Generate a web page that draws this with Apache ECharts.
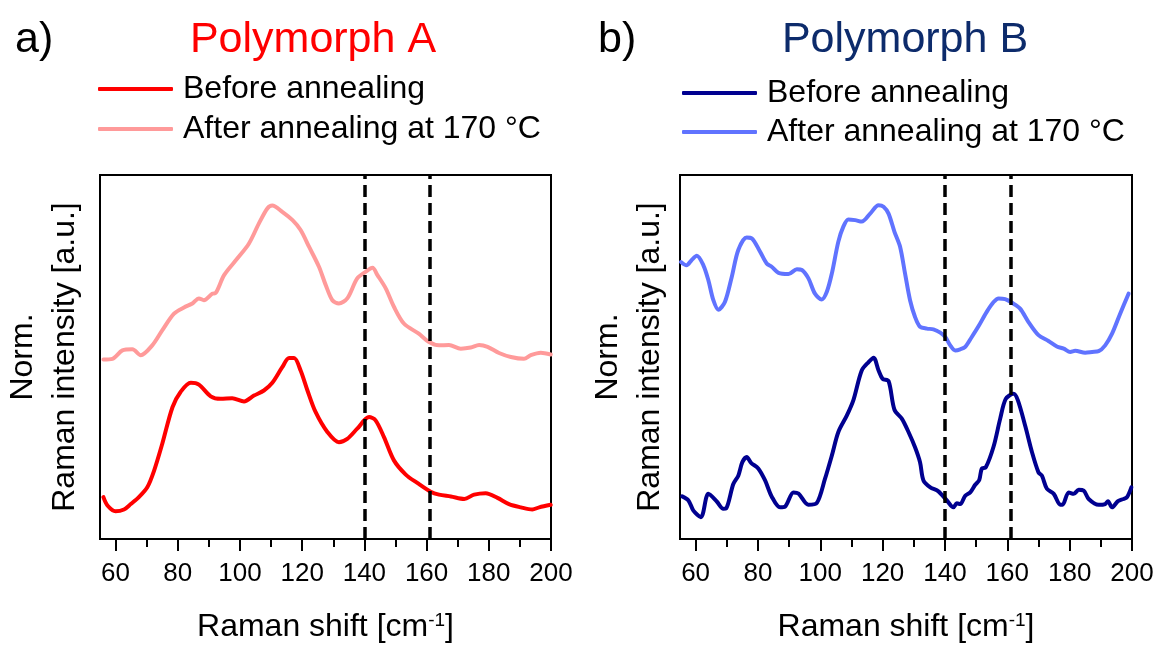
<!DOCTYPE html>
<html>
<head>
<meta charset="utf-8">
<script src="https://cdn.jsdelivr.net/npm/echarts@6/dist/echarts.min.js"></script>
<style>
html,body{margin:0;padding:0;background:#fff;}
#chart{width:1159px;height:650px;}
</style>
</head>
<body>
<div id="chart"></div>
<script>
// ---------- data ----------
const xTicks = [60, 80, 100, 120, 140, 160, 180, 200];
const xMinorTicks = [70, 90, 110, 130, 150, 170, 190];
const markerLines = [140, 161];

// Polymorph A – before annealing
const aBeforeX = [56.1,57.4,60,62.7,64.9,67.5,70.2,72.4,75,78.3,80.9,84.2,86.8,90.6,93.8,97.5,101.3,104.5,107.7,110.4,113.6,115.8,117.4,119.5,121.7,124.3,128.1,131.8,134.5,137.7,141.5,143.6,146.3,149.5,153.3,157,161.3,164,167.8,172.1,175.3,179,182.8,186.5,190.3,194,196.2,199.9];
const aBeforeY = [0.115,0.092,0.076,0.081,0.096,0.115,0.142,0.188,0.261,0.362,0.404,0.429,0.424,0.392,0.385,0.387,0.378,0.394,0.408,0.429,0.472,0.497,0.497,0.463,0.408,0.349,0.294,0.266,0.275,0.303,0.335,0.326,0.280,0.216,0.177,0.154,0.130,0.122,0.117,0.110,0.122,0.126,0.113,0.096,0.087,0.081,0.087,0.094];
// Polymorph A – after annealing at 170 °C
const aAfterX = [56.1,59,62.2,65.4,68.1,71.8,75,78.8,82,84.7,86.8,88.4,91.1,92.2,94.9,99.2,102.9,106.1,108.8,110.4,113.6,116.9,119.5,122.2,125.4,127.6,129.7,131.8,134.5,137.7,140.4,142.6,144.2,146.9,149.5,152.7,157.5,160.8,164,167.2,171,174.2,176.9,179.6,183.3,187.1,191.3,193.5,196.7,199.9];
const aAfterY = [0.493,0.495,0.518,0.521,0.505,0.532,0.573,0.619,0.636,0.647,0.661,0.656,0.674,0.676,0.725,0.771,0.812,0.867,0.908,0.916,0.899,0.876,0.849,0.803,0.748,0.697,0.656,0.647,0.661,0.716,0.734,0.745,0.725,0.688,0.638,0.592,0.564,0.541,0.532,0.533,0.523,0.526,0.533,0.528,0.511,0.500,0.495,0.505,0.512,0.507];

// Polymorph B – before annealing
const bBeforeX = [55.7,57.7,59.3,61.7,64.1,66.8,68.9,69.8,72.1,73.7,75,76.4,77.8,80.1,82.3,84.4,87.1,88.7,91.4,93,96.2,98.9,101.5,103.7,105.8,108.5,110.6,113.3,115.5,117.1,118.7,120,121.9,123.8,126.2,128.3,130.4,132,133.1,135.3,137.9,140.6,142.7,143.8,144.9,146.5,148.1,149.7,151,151.8,153.1,155.6,157.7,159.5,162,163.4,165.8,167.9,170,171.1,172.7,174.9,177,177.7,179.7,181.3,182.9,184.5,186.1,189.3,191.4,192.3,193.6,195.5,197.3,198.4,199.8];
const bBeforeY = [0.117,0.106,0.078,0.060,0.124,0.103,0.083,0.084,0.151,0.174,0.211,0.225,0.209,0.194,0.161,0.117,0.087,0.089,0.128,0.125,0.094,0.099,0.165,0.229,0.294,0.339,0.381,0.463,0.486,0.498,0.463,0.440,0.434,0.355,0.330,0.294,0.252,0.211,0.161,0.142,0.131,0.106,0.087,0.098,0.096,0.119,0.128,0.149,0.162,0.193,0.197,0.254,0.330,0.385,0.399,0.381,0.309,0.239,0.183,0.174,0.138,0.124,0.094,0.094,0.128,0.124,0.135,0.133,0.110,0.094,0.096,0.104,0.087,0.104,0.110,0.115,0.142];
// Polymorph B – after annealing at 170 °C
const bAfterX = [55.3,57.1,58.7,60.4,62.5,64.1,65.7,67.3,69.4,71.6,73.7,76.4,78,80.7,82.8,84.4,86.6,89.8,92.5,94.1,96.2,98.3,100.5,102.1,103.7,105.8,107.4,109,111.2,113.3,116,118.7,120.3,121.9,123.8,125.6,127.2,128.8,130.4,132,134.2,136.3,138.5,140.1,141.7,143.3,144.9,146.5,148.6,150.8,153.4,155.6,157.2,159.3,161.5,164.1,166.8,170,173.2,175.9,178.1,180.2,181.8,185,187.2,189.3,191.4,193.6,196.2,198.9];
const bAfterY = [0.761,0.752,0.766,0.778,0.752,0.711,0.656,0.630,0.651,0.720,0.794,0.828,0.826,0.789,0.757,0.748,0.731,0.728,0.741,0.739,0.716,0.674,0.658,0.679,0.729,0.817,0.858,0.878,0.876,0.872,0.894,0.917,0.913,0.894,0.844,0.803,0.729,0.656,0.610,0.583,0.578,0.576,0.567,0.555,0.532,0.518,0.521,0.528,0.555,0.585,0.624,0.651,0.661,0.659,0.649,0.633,0.596,0.560,0.544,0.529,0.523,0.514,0.517,0.512,0.514,0.516,0.532,0.564,0.619,0.674];

const seriesNames = ['Before annealing', 'After annealing at 170 °C'];
// ---------- chart ----------
const FONT = '"Liberation Sans", Arial, Helvetica, sans-serif';
const zip = (xs, ys) => xs.map((x, i) => [x, ys[i]]);

function xAxes(gridIndex) {
  return [
    {
      type: 'value', gridIndex, min: 55, max: 200, position: 'bottom',
      axisLine: { show: false },
      axisTick: { show: true, customValues: xTicks, length: 12, lineStyle: { color: '#000', width: 2 } },
      axisLabel: { show: true, customValues: xTicks, fontSize: 26, color: '#000', fontFamily: FONT, margin: 22 },
      splitLine: { show: false },
      name: 'Raman shift [cm{sup|-1}]', nameLocation: 'middle', nameGap: 72,
      nameTextStyle: {
        fontSize: 32, color: '#000', fontFamily: FONT,
        rich: { sup: { fontSize: 19, color: '#000', fontFamily: FONT, verticalAlign: 'top', lineHeight: 30 } }
      }
    },
    {
      type: 'value', gridIndex, min: 55, max: 200, position: 'bottom',
      axisLine: { show: false },
      axisTick: { show: true, customValues: xMinorTicks, length: 8, lineStyle: { color: '#000', width: 2 } },
      axisLabel: { show: false },
      splitLine: { show: false }
    }
  ];
}

function yAxis(gridIndex, gap) {
  return {
    type: 'value', gridIndex, min: 0, max: 1,
    axisLine: { show: false }, axisTick: { show: false }, axisLabel: { show: false }, splitLine: { show: false },
    name: 'Norm.\nRaman intensity [a.u.]', nameLocation: 'middle', nameGap: gap, nameRotate: 90,
    nameTextStyle: { fontSize: 32, lineHeight: 42, color: '#000', fontFamily: FONT, align: 'center' }
  };
}

function lineSeries(name, data, color, xi, yi, withMarks) {
  const s = {
    name, type: 'line', data, xAxisIndex: xi, yAxisIndex: yi,
    showSymbol: false, symbol: 'none', smooth: 0.3,
    lineStyle: { color, width: 4, cap: 'round', join: 'round' },
    itemStyle: { color }
  };
  if (withMarks) {
    s.markLine = {
      silent: true, symbol: ['none', 'none'], label: { show: false },
      lineStyle: { type: [12, 6], width: 3.5, color: '#000' },
      emphasis: { disabled: true },
      data: markerLines.map(v => ({ xAxis: v }))
    };
  }
  return s;
}

const chart = echarts.init(document.getElementById('chart'));
chart.setOption({
  backgroundColor: '#fff',
  animation: false,
  textStyle: { fontFamily: FONT },
  title: [
    { text: 'a)', left: 10, top: 12, textStyle: { fontSize: 43, fontWeight: 'normal', color: '#000', fontFamily: FONT, lineHeight: 46 } },
    { text: 'Polymorph A', left: 308, textAlign: 'center', top: 12, textStyle: { fontSize: 43, fontWeight: 'normal', color: '#ff0000', fontFamily: FONT, lineHeight: 46 } },
    { text: 'b)', left: 593, top: 12, textStyle: { fontSize: 43, fontWeight: 'normal', color: '#000', fontFamily: FONT, lineHeight: 46 } },
    { text: 'Polymorph B', left: 900, textAlign: 'center', top: 12, textStyle: { fontSize: 43, fontWeight: 'normal', color: '#0d2b6b', fontFamily: FONT, lineHeight: 46 } }
  ],
  legend: [
    {
      left: 98, top: 73, orient: 'vertical', padding: 0, itemGap: 8,
      icon: 'roundRect', itemWidth: 75, itemHeight: 4,
      textStyle: { fontSize: 32, color: '#000', fontFamily: FONT, padding: [0, 0, 0, 5] },
      data: [{ name: seriesNames[0] + ' ' }, { name: seriesNames[1] + ' ' }]
    },
    {
      left: 682, top: 77, orient: 'vertical', padding: 0, itemGap: 7,
      icon: 'roundRect', itemWidth: 75, itemHeight: 4,
      textStyle: { fontSize: 32, color: '#000', fontFamily: FONT, padding: [0, 0, 0, 5] },
      data: [{ name: seriesNames[0] }, { name: seriesNames[1] }]
    }
  ],
  grid: [
    { left: 100, top: 175, width: 451, height: 364, show: true, borderColor: '#000', borderWidth: 2, backgroundColor: 'transparent', containLabel: false, outerBoundsMode: 'none' },
    { left: 680, top: 175, width: 452, height: 364, show: true, borderColor: '#000', borderWidth: 2, backgroundColor: 'transparent', containLabel: false, outerBoundsMode: 'none' }
  ],
  xAxis: [...xAxes(0), ...xAxes(1)],
  yAxis: [yAxis(0, 14), yAxis(1, 9)],
  series: [
    lineSeries(seriesNames[0] + ' ', zip(aBeforeX, aBeforeY), '#ff0000', 0, 0, false),
    lineSeries(seriesNames[1] + ' ', zip(aAfterX, aAfterY), '#ff9a9a', 0, 0, true),
    lineSeries(seriesNames[0], zip(bBeforeX, bBeforeY), '#000090', 2, 1, false),
    lineSeries(seriesNames[1], zip(bAfterX, bAfterY), '#6073ff', 2, 1, true)
  ]
});
</script>
</body>
</html>
